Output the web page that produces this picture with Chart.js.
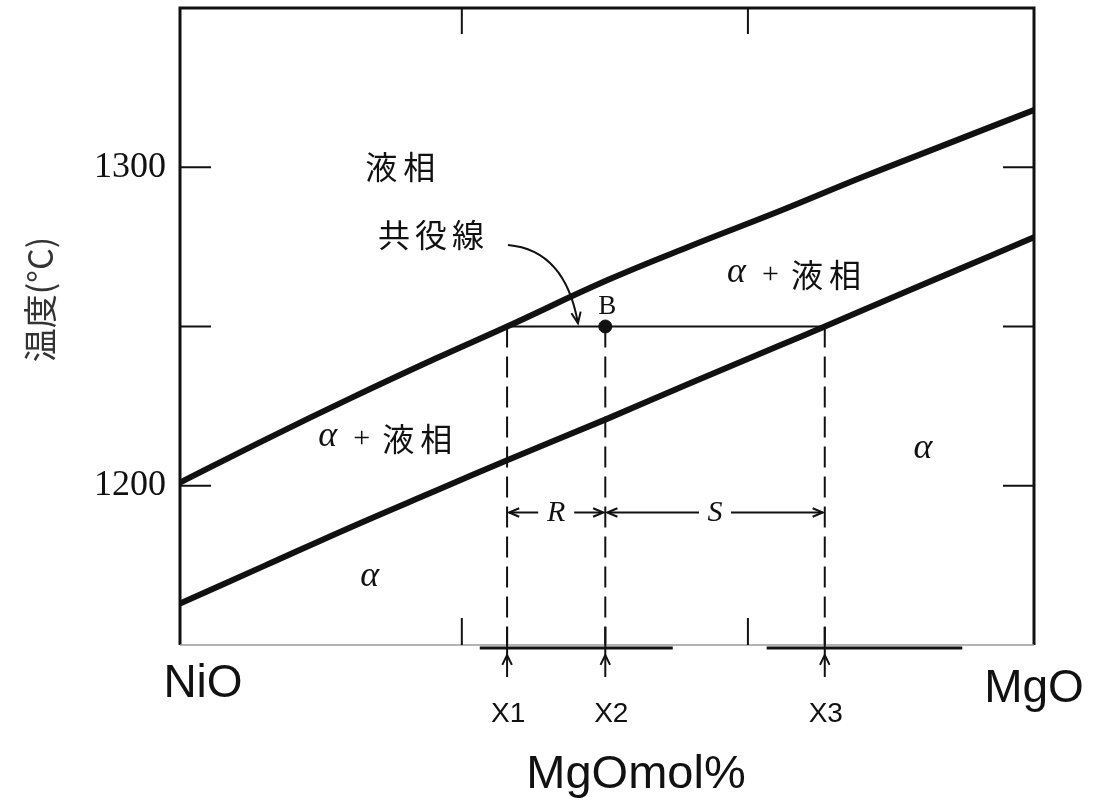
<!DOCTYPE html>
<html>
<head>
<meta charset="utf-8">
<script src="https://cdn.jsdelivr.net/npm/chart.js@4.4.1/dist/chart.umd.min.js"></script>
<style>
  html, body { margin: 0; padding: 0; background: #fff; }
  canvas { display: block; }
</style>
</head>
<body>
<canvas id="c" width="1101" height="803"></canvas>
<script>
// NiO–MgO phase diagram: composition in MgO mol%, temperature in °C
const liquidusMgO  = [0, 10, 20, 30, 38.3, 50, 60, 70, 80, 90, 100];
const liquidusTemp = [1201, 1214.5, 1227.5, 1240, 1250, 1264.5, 1275.5, 1286, 1297, 1307.5, 1318];

const solidusMgO  = [0, 10, 20, 30, 38.3, 50, 60, 70, 75.5, 80, 90, 100];
const solidusTemp = [1163, 1175, 1187, 1198.5, 1208, 1221, 1232.5, 1243.8, 1250, 1255.2, 1266.6, 1278];

// tie line through point B
const tieTemp = 1250;
const markLabels = ['X1', 'X2', 'X3'];
const markMgO = [38.3, 49.8, 75.5];

// axis ticks
const tempMin = 1150, tempMax = 1350;
const tempTicks = [1200, 1250, 1300];
const tempTickLabels = ['1200', '', '1300'];
const compTicks = [33, 66.5];

// thick stubs along the base line
const baseSegments = [[35.1, 57.7], [68.7, 91.6]];

const INK = '#111';
const CJK = '"Noto Sans CJK JP", sans-serif';
const SERIF = '"Liberation Serif", "DejaVu Serif", serif';
const SANS = '"Liberation Sans", Arial, sans-serif';

function seg(ctx, x1, y1, x2, y2) {
  ctx.beginPath(); ctx.moveTo(x1, y1); ctx.lineTo(x2, y2); ctx.stroke();
}
function head(ctx, tx, ty, ang, len = 10, spread = 0.45) {
  ctx.beginPath();
  ctx.moveTo(tx - len * Math.cos(ang - spread), ty - len * Math.sin(ang - spread));
  ctx.lineTo(tx, ty);
  ctx.lineTo(tx - len * Math.cos(ang + spread), ty - len * Math.sin(ang + spread));
  ctx.stroke();
}
function spacedWidth(ctx, text, sp) {
  let w = 0;
  for (const ch of text) w += ctx.measureText(ch).width;
  return w + sp * ([...text].length - 1);
}
function drawSpaced(ctx, text, x, y, sp) {
  for (const ch of text) { ctx.fillText(ch, x, y); x += ctx.measureText(ch).width + sp; }
}
function drawCJK(ctx, text, cx, cy, size, sp) {
  ctx.font = size + 'px ' + CJK;
  ctx.textAlign = 'left';
  ctx.textBaseline = 'middle';
  drawSpaced(ctx, text, cx - spacedWidth(ctx, text, sp) / 2, cy, sp);
}
// "α + 液相" starting at a left edge
function drawMixed(ctx, left, cy) {
  ctx.textBaseline = 'middle';
  ctx.textAlign = 'left';
  ctx.font = 'italic 36px ' + SERIF;
  ctx.fillText('α', left, cy - 2);
  ctx.font = '30px ' + SERIF;
  ctx.fillText('+', left + 35, cy);
  ctx.font = '32px ' + CJK;
  drawSpaced(ctx, '液相', left + 64, cy, 6);
}

const diagramPlugin = {
  id: 'phaseDiagram',
  afterDatasetsDraw(chart) {
    const { ctx, chartArea: a, scales: { x, y } } = chart;
    ctx.save();
    ctx.strokeStyle = INK;
    ctx.fillStyle = INK;
    ctx.lineCap = 'butt';

    // frame
    ctx.lineWidth = 3;
    ctx.beginPath();
    ctx.moveTo(a.left, a.bottom); ctx.lineTo(a.left, a.top);
    ctx.lineTo(a.right, a.top); ctx.lineTo(a.right, a.bottom);
    ctx.stroke();
    ctx.strokeStyle = '#9a9a9a';
    ctx.lineWidth = 1.5;
    seg(ctx, a.left, a.bottom, a.right, a.bottom);
    ctx.strokeStyle = INK;

    // inward ticks
    ctx.lineWidth = 2;
    tempTicks.forEach(t => {
      const py = y.getPixelForValue(t);
      seg(ctx, a.left, py, a.left + 31, py);
      seg(ctx, a.right - 31, py, a.right, py);
    });
    compTicks.forEach(c => {
      const px = x.getPixelForValue(c);
      seg(ctx, px, a.top, px, a.top + 26);
      seg(ctx, px, a.bottom - 27, px, a.bottom);
    });

    // base stubs
    ctx.lineWidth = 3;
    baseSegments.forEach(([m0, m1]) => seg(ctx, x.getPixelForValue(m0), a.bottom + 3, x.getPixelForValue(m1), a.bottom + 3));

    // composition arrows and labels below the axis
    ctx.lineWidth = 2;
    markMgO.forEach((m, i) => {
      const px = x.getPixelForValue(m);
      seg(ctx, px, a.bottom - 18, px, a.bottom + 32);
      head(ctx, px, a.bottom + 10, -Math.PI / 2, 11, 0.45);
      ctx.font = '28px ' + SANS;
      ctx.textAlign = 'center';
      ctx.textBaseline = 'alphabetic';
      ctx.fillText(markLabels[i], px + (i === 1 ? 6 : 1), a.bottom + 77);
    });

    // lever-rule dimension lines
    const yd = y.getPixelForValue(1191.6);
    const p1 = x.getPixelForValue(markMgO[0]);
    const p2 = x.getPixelForValue(markMgO[1]);
    const p3 = x.getPixelForValue(markMgO[2]);
    const rC = (p1 + p2) / 2, sC = (p2 + p3) / 2;
    ctx.lineWidth = 2;
    seg(ctx, p1 + 2, yd, rC - 18, yd);
    seg(ctx, rC + 18, yd, p2 - 2, yd);
    seg(ctx, p2 + 2, yd, sC - 16, yd);
    seg(ctx, sC + 16, yd, p3 - 2, yd);
    head(ctx, p1 + 2, yd, Math.PI, 11, 0.4);
    head(ctx, p2 - 2, yd, 0, 11, 0.4);
    head(ctx, p2 + 2, yd, Math.PI, 11, 0.4);
    head(ctx, p3 - 2, yd, 0, 11, 0.4);
    ctx.font = 'italic 30px ' + SERIF;
    ctx.textAlign = 'center';
    ctx.textBaseline = 'middle';
    ctx.fillText('R', rC, yd + 1);
    ctx.fillText('S', sC, yd + 1);

    // point B label
    ctx.font = '27px ' + SERIF;
    ctx.textBaseline = 'alphabetic';
    ctx.fillText('B', p2 + 2, y.getPixelForValue(tieTemp) - 13);

    // curved pointer from 共役線 to the tie line
    const sx = x.getPixelForValue(38.4), sy = y.getPixelForValue(1275.6);
    const qx = x.getPixelForValue(45.1), qy = y.getPixelForValue(1274);
    const ex = x.getPixelForValue(46.6), ey = y.getPixelForValue(1251);
    ctx.lineWidth = 2;
    ctx.beginPath(); ctx.moveTo(sx, sy); ctx.quadraticCurveTo(qx, qy, ex, ey); ctx.stroke();
    head(ctx, ex, ey, Math.atan2(ey - qy, ex - qx), 12, 0.4);

    // region labels
    drawCJK(ctx, '液相', x.getPixelForValue(25.8), y.getPixelForValue(1300), 32, 6);
    drawCJK(ctx, '共役線', x.getPixelForValue(29.4), y.getPixelForValue(1278.7), 32, 5);
    drawMixed(ctx, x.getPixelForValue(64.05), y.getPixelForValue(1266.2));
    drawMixed(ctx, x.getPixelForValue(16.2), y.getPixelForValue(1214.7));
    ctx.font = 'italic 36px ' + SERIF;
    ctx.textAlign = 'center';
    ctx.textBaseline = 'middle';
    ctx.fillText('α', x.getPixelForValue(87.0), y.getPixelForValue(1211) - 2);
    ctx.fillText('α', x.getPixelForValue(22.2), y.getPixelForValue(1171) - 2);

    // end members and axis title
    ctx.font = '46px ' + SANS;
    ctx.textBaseline = 'alphabetic';
    ctx.fillText('NiO', a.left + 23, a.bottom + 52);
    ctx.fillText('MgO', a.right, a.bottom + 57);
    ctx.font = '47px ' + SANS;
    ctx.fillText('MgOmol%', (a.left + a.right) / 2 + 29, a.bottom + 143);

    // temperature axis title
    ctx.save();
    ctx.translate(a.left - 140, (a.top + a.bottom) / 2 - 27);
    ctx.rotate(-Math.PI / 2);
    ctx.fillStyle = '#333';
    ctx.font = '34px ' + CJK;
    ctx.textAlign = 'center';
    ctx.textBaseline = 'middle';
    ctx.fillText('温度(°C)', 0, 0);
    ctx.restore();

    ctx.restore();
  }
};

const toPoints = (xs, ys) => xs.map((v, i) => ({ x: v, y: ys[i] }));

new Chart(document.getElementById('c'), {
  type: 'scatter',
  data: {
    datasets: [
      {
        label: 'B',
        data: [{ x: markMgO[1], y: tieTemp }],
        showLine: false,
        pointRadius: 6.5,
        pointBackgroundColor: INK,
        pointBorderColor: INK,
        order: -1
      },
      {
        label: 'liquidus',
        data: toPoints(liquidusMgO, liquidusTemp),
        showLine: true,
        borderColor: INK,
        borderWidth: 6,
        pointRadius: 0,
        tension: 0.4,
        borderCapStyle: 'butt'
      },
      {
        label: 'solidus',
        data: toPoints(solidusMgO, solidusTemp),
        showLine: true,
        borderColor: INK,
        borderWidth: 6,
        pointRadius: 0,
        tension: 0.4,
        borderCapStyle: 'butt'
      },
      {
        label: 'tie line',
        data: [{ x: markMgO[0], y: tieTemp }, { x: markMgO[2], y: tieTemp }],
        showLine: true,
        borderColor: INK,
        borderWidth: 2,
        pointRadius: 0
      },
      ...markMgO.map((m, i) => ({
        label: markLabels[i],
        data: [{ x: m, y: tieTemp }, { x: m, y: tempMin }],
        showLine: true,
        borderColor: INK,
        borderWidth: 2,
        borderDash: [21, 9],
        pointRadius: 0
      }))
    ]
  },
  options: {
    responsive: false,
    animation: false,
    events: [],
    layout: { padding: { top: 8, right: 67, bottom: 158, left: 0 } },
    plugins: { legend: { display: false }, tooltip: { enabled: false } },
    scales: {
      x: { type: 'linear', min: 0, max: 100, display: false },
      y: {
        type: 'linear',
        min: tempMin,
        max: tempMax,
        afterBuildTicks: s => { s.ticks = tempTicks.map(v => ({ value: v })); },
        afterFit: s => { s.width = 180; s.paddingTop = 0; s.paddingBottom = 0; },
        grid: { display: false, drawTicks: false },
        border: { display: false },
        ticks: {
          padding: 14,
          color: INK,
          font: { family: SERIF, size: 36 },
          callback: (v, i) => tempTickLabels[i]
        }
      }
    }
  },
  plugins: [diagramPlugin]
});
</script>
</body>
</html>
